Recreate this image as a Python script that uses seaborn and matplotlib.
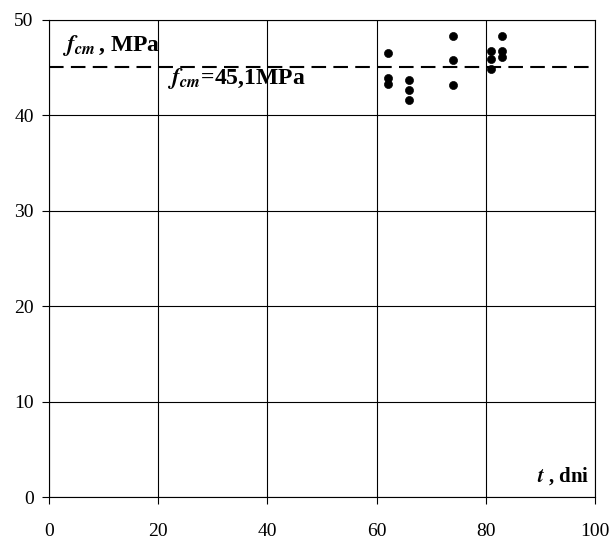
import matplotlib
matplotlib.use('Agg')
import matplotlib.pyplot as plt
import seaborn as sns
import pandas as pd

# measured compressive strength vs age
t_days = [62, 62, 62, 66, 66, 66, 74, 74, 74, 81, 81, 81, 83, 83, 83]
fcm_vals = [46.5, 43.9, 43.3, 43.7, 42.7, 41.6, 48.3, 45.8, 43.2, 46.7, 45.9, 44.9, 48.3, 46.7, 46.1]
fcm_mean = 45.1
x_ticks = [0, 20, 40, 60, 80, 100]
y_ticks = [0, 10, 20, 30, 40, 50]

sns.set_theme(style='white')
plt.rcParams['font.family'] = ['Liberation Serif', 'DejaVu Serif']
plt.rcParams['mathtext.fontset'] = 'stix'
plt.rcParams['text.color'] = 'black'

df = pd.DataFrame({'t': t_days, 'fcm': fcm_vals})

fig = plt.figure(figsize=(6.11, 5.4), dpi=100)
ax = fig.add_axes([49 / 611, 1 - 497 / 540, 546 / 611, 477 / 540])

sns.scatterplot(data=df, x='t', y='fcm', ax=ax, color='black', s=34, edgecolor='black', zorder=3)
ax.axhline(fcm_mean, color='black', lw=1.5, ls=(0, (7, 3.5)), zorder=2)

ax.set_xlim(0, 100)
ax.set_ylim(0, 50)
ax.set_xticks(x_ticks)
ax.set_yticks(y_ticks)
ax.grid(True, color='black', lw=0.8)
ax.set_axisbelow(True)
for s in ax.spines.values():
    s.set_color('black')
    s.set_linewidth(0.8)
ax.tick_params(axis='both', direction='out', length=5, width=0.8, color='black',
               labelsize=14, labelcolor='black', left=True, bottom=True)
ax.tick_params(axis='x', pad=14)
ax.tick_params(axis='y', pad=6)
ax.set_xlabel('')
ax.set_ylabel('')

ax.text(2.3, 47.3, r'$\mathbfit{f}_{\mathbfit{cm}}\,$' + ', MPa', fontsize=17, fontweight='bold', va='center')
ax.text(21.6, 43.9, r'$\mathbfit{f}_{\mathbfit{cm}}$' + '=45,1MPa', fontsize=17, fontweight='bold', va='center')
ax.text(99, 2.2, r'$\mathbfit{t}$' + ' , dni', fontsize=15, fontweight='bold', ha='right', va='center')

fig.savefig('out.png', dpi=100)
